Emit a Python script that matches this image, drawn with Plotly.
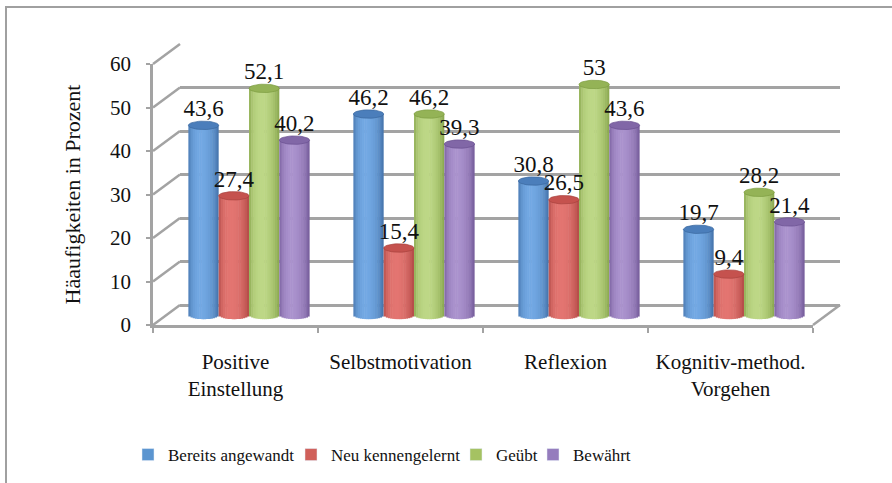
import math
import plotly.graph_objects as go

# ---------------- data ----------------
categories = ["Positive<br>Einstellung", "Selbstmotivation", "Reflexion", "Kognitiv-method.<br>Vorgehen"]
series_names = ["Bereits angewandt", "Neu kennengelernt", "Geübt", "Bewährt"]
bereits_angewandt = [43.6, 46.2, 30.8, 19.7]
neu_kennengelernt = [27.4, 15.4, 26.5, 9.4]
geuebt = [52.1, 46.2, 53.0, 28.2]
bewaehrt = [40.2, 39.3, 43.6, 21.4]
series_values = [bereits_angewandt, neu_kennengelernt, geuebt, bewaehrt]
y_ticks = [0, 10, 20, 30, 40, 50, 60]
y_title = "Häaufigkeiten in Prozent"

# ---------------- style ----------------
FONT = "Liberation Serif"
GRAY = "#A3A3A3"
light_cols = ["#72A8E3", "#E37571", "#BDD786", "#AA92CD"]
dark_cols = ["#3A679E", "#A8423E", "#7C9C40", "#694F8F"]
cap_cols = ["#4B7EBB", "#C5524E", "#94B356", "#8167A7"]
legend_cols = ["#5B95D0", "#D0605A", "#A5C262", "#957CBD"]
legend_widths = [118, 120, 32, 60]   # px width of each legend entry's text slot

W, H = 892, 483
PAGE = 0                   # body margin removed via post_script
UNIT = 261 / 60.0          # px per value unit
FX0, FX1, FY0 = 153, 813, 325   # front plane (page px): x-left, x-right, y of value 0
DX, DY = 27, -20                 # depth offset (front -> back)


def px_x(x):
    return (x - PAGE) / W


def px_y(y):
    return 1 - (y - PAGE) / H


def layer_domain(frac, lo, hi):
    x0 = FX0 + DX * frac
    x1 = FX1 + DX * frac
    yz = FY0 + DY * frac
    return [px_x(x0), px_x(x1)], [px_y(yz - lo * UNIT), px_y(yz - hi * UNIT)]


def hex2rgb(h):
    h = h.lstrip("#")
    return tuple(int(h[i:i + 2], 16) for i in (0, 2, 4))


def mix(c1, c2, f):
    a, b = hex2rgb(c1), hex2rgb(c2)
    return "rgb(%d,%d,%d)" % tuple(round(a[i] + (b[i] - a[i]) * f) for i in range(3))


fig = go.Figure()

fx_dom, fy_dom = layer_domain(0, 0, 60)      # front axes
bx_dom, by_dom = layer_domain(1, 0, 60)      # back wall
Y3LO, Y3HI = -3, 63
mx_dom, my_dom = layer_domain(0.5, Y3LO, Y3HI)  # bar layer (mid depth)

fig.add_trace(go.Scatter(x=categories, y=[None] * len(categories), xaxis="x", yaxis="y",
                         showlegend=False, hoverinfo="skip"))
fig.add_trace(go.Scatter(x=[0], y=[None], xaxis="x2", yaxis="y2",
                         showlegend=False, hoverinfo="skip"))

GW = 0.735
BW = GW / 4
NSTRIPE = 14
D_CAP = 4.2 / UNIT   # half height of ellipse in value units
xs = list(range(len(categories)))

for i, (name, vals) in enumerate(zip(series_names, series_values)):
    off = -GW / 2 + i * BW
    for k in range(NSTRIPE):
        t = (k + 0.5) / NSTRIPE
        u = t ** 0.78
        f = math.sin(math.pi * u) ** 0.55
        col = mix(dark_cols[i], light_cols[i], f)
        base = -D_CAP * math.sqrt(max(0.0, 1 - (2 * t - 1) ** 2))
        fig.add_trace(go.Bar(
            x=xs, y=[v - base for v in vals], base=base,
            offset=off + k * BW / NSTRIPE, width=BW / NSTRIPE * 1.25 if k < NSTRIPE - 1 else BW / NSTRIPE,
            marker=dict(color=col, line=dict(width=0)),
            xaxis="x3", yaxis="y3", showlegend=False, hoverinfo="skip"))
    ex, ey = [], []
    for j, v in enumerate(vals):
        cx = j + off + BW / 2
        for a in range(0, 361, 10):
            th = math.radians(a)
            ex.append(cx + BW / 2 * math.cos(th))
            ey.append(v + D_CAP * math.sin(th))
        ex.append(None)
        ey.append(None)
    fig.add_trace(go.Scatter(x=ex, y=ey, mode="lines", fill="toself", fillcolor=cap_cols[i],
                             line=dict(color=dark_cols[i], width=0.7),
                             xaxis="x3", yaxis="y3", showlegend=False, hoverinfo="skip"))

for i, vals in enumerate(series_values):
    off = -GW / 2 + i * BW
    fig.add_trace(go.Scatter(
        x=[j + off + BW / 2 for j in xs], y=vals, mode="markers+text",
        marker=dict(size=4, opacity=0),
        text=[("%g" % v).replace(".", ",") for v in vals],
        textposition="top center", textfont=dict(family=FONT, size=23, color="#111111"),
        cliponaxis=False, xaxis="x3", yaxis="y3", showlegend=False, hoverinfo="skip"))

for i, name in enumerate(series_names):
    fig.add_trace(go.Bar(x=[None], y=[None], name=name, marker_color=legend_cols[i],
                         legendwidth=legend_widths[i],
                         xaxis="x3", yaxis="y3", showlegend=True))

shapes = []
for v in y_ticks:
    shapes.append(dict(type="line", xref="paper", yref="paper",
                       x0=px_x(FX0), y0=px_y(FY0 - v * UNIT),
                       x1=px_x(FX0 + DX), y1=px_y(FY0 + DY - v * UNIT),
                       line=dict(color=GRAY, width=2.5)))
shapes.append(dict(type="line", xref="paper", yref="paper",
                   x0=px_x(FX1), y0=px_y(FY0), x1=px_x(FX1 + DX), y1=px_y(FY0 + DY),
                   line=dict(color=GRAY, width=2.5)))
shapes.append(dict(type="rect", xref="paper", yref="paper",
                   x0=px_x(6), y0=-0.05, x1=1.05, y1=px_y(7),
                   line=dict(color="#A0A0A0", width=2), fillcolor="rgba(0,0,0,0)"))

fig.update_layout(
    width=W, height=H,
    margin=dict(l=0, r=0, t=0, b=0, autoexpand=False),
    paper_bgcolor="white", plot_bgcolor="rgba(0,0,0,0)",
    barmode="overlay",
    font=dict(family=FONT, color="#111111"),
    shapes=shapes,
    xaxis=dict(domain=fx_dom, anchor="y", type="category", categoryorder="array",
               categoryarray=categories, range=[-0.5, len(categories) - 0.5], automargin=False,
               tickson="boundaries", ticks="outside", ticklen=5, tickwidth=2, tickcolor=GRAY,
               showline=True, linecolor=GRAY, linewidth=2.5, showgrid=False,
               tickfont=dict(family=FONT, size=21, color="#111111"), ticklabelstandoff=16),
    yaxis=dict(domain=fy_dom, anchor="x", range=[0, 60], tickvals=y_ticks, automargin=False,
               ticks="outside", ticklen=4, tickwidth=2, tickcolor=GRAY,
               showline=True, linecolor=GRAY, linewidth=2.5, showgrid=False, zeroline=False,
               tickfont=dict(family=FONT, size=21, color="#111111"), ticklabelstandoff=11,
               title=dict(text=y_title, font=dict(family=FONT, size=22, color="#111111"),
                          standoff=24)),
    xaxis2=dict(domain=bx_dom, anchor="y2", range=[-0.5, 3.5], automargin=False,
                showgrid=False, zeroline=False, showticklabels=False, ticks="", showline=False),
    yaxis2=dict(domain=by_dom, anchor="x2", range=[0, 60], tickvals=y_ticks, automargin=False,
                showgrid=True, gridcolor=GRAY, gridwidth=2.8,
                zeroline=True, zerolinecolor=GRAY, zerolinewidth=2.8,
                showticklabels=False, ticks="", showline=False),
    xaxis3=dict(domain=mx_dom, anchor="y3", range=[-0.5, 3.5], visible=False, automargin=False),
    yaxis3=dict(domain=my_dom, anchor="x3", range=[Y3LO, Y3HI], visible=False, automargin=False),
    legend=dict(orientation="h", x=px_x(128), y=px_y(455), xanchor="left", yanchor="middle",
                font=dict(family=FONT, size=17, color="#111111"), itemwidth=30,
                bgcolor="rgba(0,0,0,0)"),
)

fig.write_html("out.html", config={"displayModeBar": False},
               post_script="document.body.style.margin='0px';")
